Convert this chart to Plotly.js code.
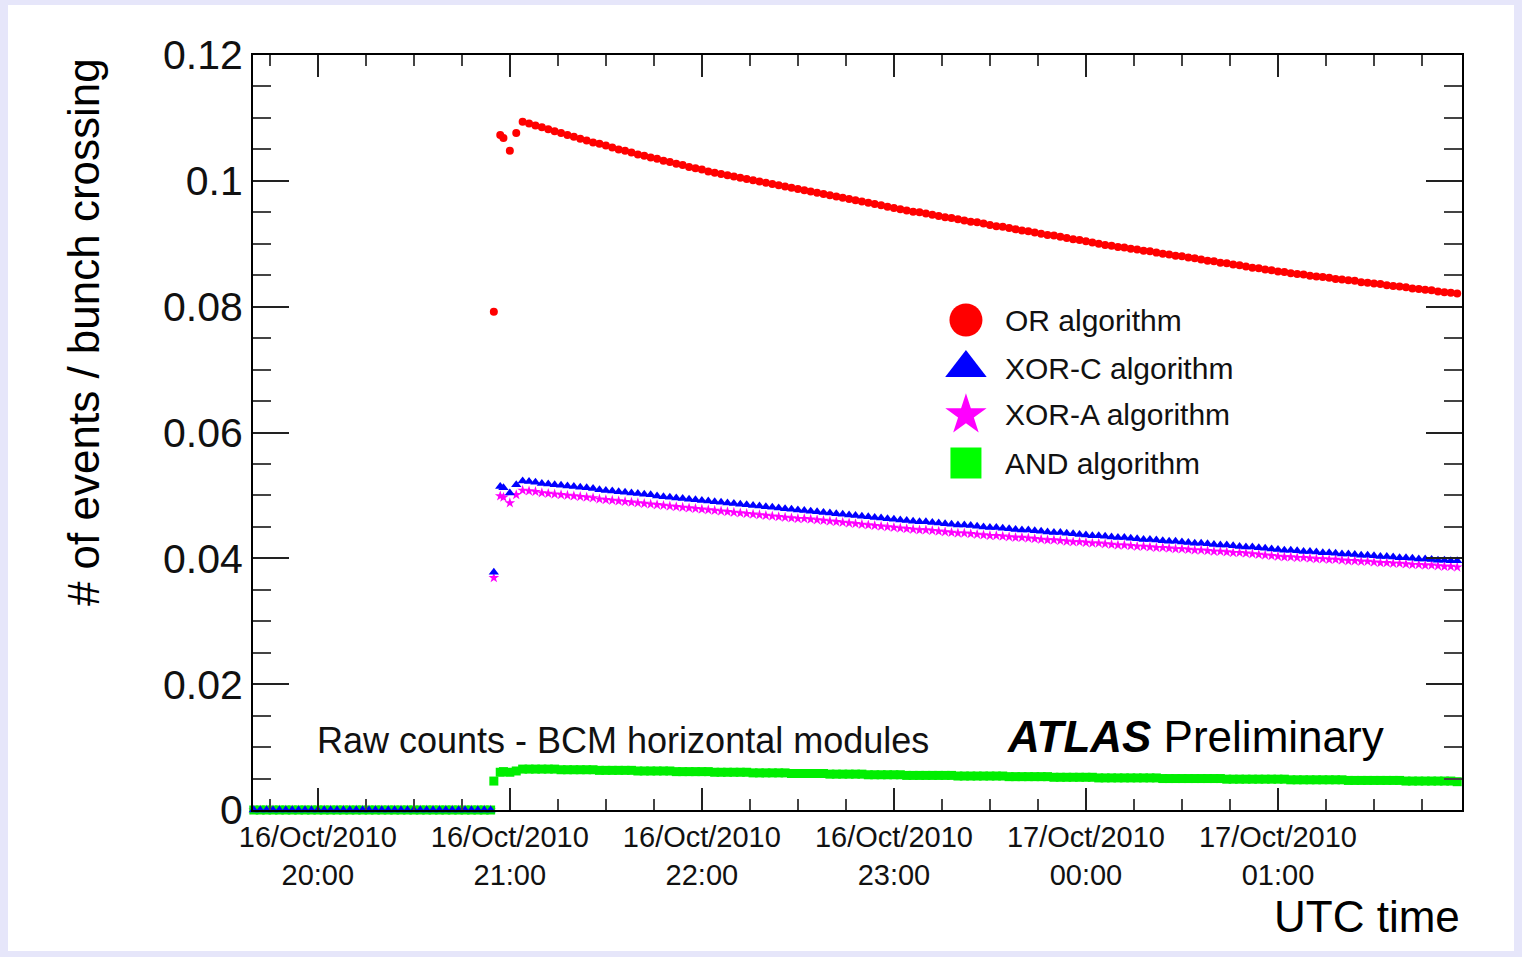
<!DOCTYPE html>
<html>
<head>
<meta charset="utf-8">
<script src="https://cdn.plot.ly/plotly-3.0.1.min.js"></script>
<style>
  html, body { margin: 0; padding: 0; background: #e6e6fa; width: 1522px; height: 957px; overflow: hidden; }
  #chart { position: absolute; left: 8px; top: 5px; width: 1506px; height: 946px; background: #ffffff; }
</style>
</head>
<body>
<div id="chart"></div>
<script>
// ---------------- data ----------------
const seriesNames = ['OR algorithm', 'XOR-C algorithm', 'XOR-A algorithm', 'AND algorithm'];

const times = [
  '19:40','19:42','19:44','19:46','19:48','19:50','19:52','19:54','19:56','19:58',
  '20:00','20:02','20:04','20:06','20:08','20:10','20:12','20:14','20:16','20:18',
  '20:20','20:22','20:24','20:26','20:28','20:30','20:32','20:34','20:36','20:38',
  '20:40','20:42','20:44','20:46','20:48','20:50','20:52','20:54',
  '20:55','20:57','20:58','21:00','21:02',
  '21:04','21:06','21:08','21:10','21:12','21:14','21:16','21:18','21:20','21:22',
  '21:24','21:26','21:28','21:30','21:32','21:34','21:36','21:38','21:40','21:42',
  '21:44','21:46','21:48','21:50','21:52','21:54','21:56','21:58',
  '22:00','22:02','22:04','22:06','22:08','22:10','22:12','22:14','22:16','22:18',
  '22:20','22:22','22:24','22:26','22:28','22:30','22:32','22:34','22:36','22:38',
  '22:40','22:42','22:44','22:46','22:48','22:50','22:52','22:54','22:56','22:58',
  '23:00','23:02','23:04','23:06','23:08','23:10','23:12','23:14','23:16','23:18',
  '23:20','23:22','23:24','23:26','23:28','23:30','23:32','23:34','23:36','23:38',
  '23:40','23:42','23:44','23:46','23:48','23:50','23:52','23:54','23:56','23:58',
  '00:00','00:02','00:04','00:06','00:08','00:10','00:12','00:14','00:16','00:18',
  '00:20','00:22','00:24','00:26','00:28','00:30','00:32','00:34','00:36','00:38',
  '00:40','00:42','00:44','00:46','00:48','00:50','00:52','00:54','00:56','00:58',
  '01:00','01:02','01:04','01:06','01:08','01:10','01:12','01:14','01:16','01:18',
  '01:20','01:22','01:24','01:26','01:28','01:30','01:32','01:34','01:36','01:38',
  '01:40','01:42','01:44','01:46','01:48','01:50','01:52','01:54','01:56'
];

const orValues = [
  0,0,0,0,0,0,0,0,0,0, 0,0,0,0,0,0,0,0,0,0, 0,0,0,0,0,0,0,0,0,0, 0,0,0,0,0,0,0,0,
  0.0792,0.1073,0.1068,0.1048,0.1076,
  0.1094,0.1091,0.1088,0.1085,0.1082,0.1079,0.1076,0.1073,0.1070,0.1067,
  0.1064,0.1061,0.1059,0.1056,0.1053,0.1050,0.1048,0.1045,0.1042,0.1040,
  0.1037,0.1035,0.1032,0.1030,0.1027,0.1025,0.1022,0.1020,0.1018,0.1015,0.1013,
  0.1011,0.1009,0.1007,0.1005,0.1003,0.1001,0.0999,0.0997,0.0995,0.0993,
  0.0991,0.0989,0.0987,0.0985,0.0983,0.0981,0.0979,0.0977,0.0975,0.0973,
  0.0971,0.0969,0.0967,0.0965,0.0963,0.0961,0.0959,0.0957,0.0955,0.0953,
  0.0951,0.0950,0.0948,0.0946,0.0944,0.0942,0.0941,0.0939,0.0937,0.0935,
  0.0934,0.0932,0.0930,0.0928,0.0927,0.0925,0.0923,0.0921,0.0920,0.0918,
  0.0916,0.0914,0.0913,0.0911,0.0909,0.0907,0.0906,0.0904,0.0902,0.0900,
  0.0898,0.0897,0.0895,0.0894,0.0892,0.0891,0.0889,0.0888,0.0886,0.0884,
  0.0883,0.0881,0.0880,0.0878,0.0877,0.0875,0.0873,0.0872,0.0870,0.0869,
  0.0867,0.0866,0.0864,0.0862,0.0861,0.0859,0.0858,0.0856,0.0855,0.0853,
  0.0852,0.0851,0.0849,0.0848,0.0847,0.0846,0.0844,0.0843,0.0842,0.0841,
  0.0839,0.0838,0.0837,0.0836,0.0834,0.0833,0.0832,0.0831,0.0829,0.0828,
  0.0827,0.0826,0.0824,0.0823,0.0822,0.0821
];

const xorCValues = [
  0,0,0,0,0,0,0,0,0,0, 0,0,0,0,0,0,0,0,0,0, 0,0,0,0,0,0,0,0,0,0, 0,0,0,0,0,0,0,0,
  0.0378,0.0514,0.0512,0.0504,0.0517,
  0.0523,0.0522,0.0521,0.0519,0.0518,0.0517,0.0516,0.0515,0.0514,0.0513,
  0.0512,0.0511,0.0509,0.0508,0.0507,0.0506,0.0505,0.0504,0.0503,0.0502,
  0.0501,0.0499,0.0498,0.0497,0.0496,0.0495,0.0494,0.0493,0.0492,
  0.0491,0.0490,0.0489,0.0488,0.0487,0.0486,0.0485,0.0484,0.0483,0.0482,
  0.0481,0.0480,0.0479,0.0478,0.0477,0.0476,0.0475,0.0474,0.0473,0.0472,
  0.0471,0.0470,0.0469,0.0468,0.0467,0.0466,0.0465,0.0464,0.0463,0.0462,
  0.0461,0.0460,0.0459,0.0458,0.0458,0.0457,0.0456,0.0455,0.0454,0.0453,
  0.0453,0.0452,0.0451,0.0450,0.0449,0.0449,0.0448,0.0447,0.0446,0.0445,
  0.0445,0.0444,0.0443,0.0442,0.0441,0.0441,0.0440,0.0439,0.0438,0.0437,
  0.0436,0.0436,0.0435,0.0434,0.0433,0.0433,0.0432,0.0431,0.0430,0.0430,
  0.0429,0.0428,0.0427,0.0427,0.0426,0.0425,0.0424,0.0424,0.0423,0.0422,
  0.0421,0.0421,0.0420,0.0419,0.0418,0.0418,0.0417,0.0416,0.0415,0.0414,
  0.0413,0.0413,0.0412,0.0411,0.0411,0.0410,0.0409,0.0409,0.0408,0.0407,
  0.0407,0.0406,0.0405,0.0405,0.0404,0.0403,0.0403,0.0402,0.0401,0.0401,
  0.0400,0.0399,0.0399,0.0398,0.0397,0.0397,0.0396,0.0396
];

const xorAValues = [
  0,0,0,0,0,0,0,0,0,0, 0,0,0,0,0,0,0,0,0,0, 0,0,0,0,0,0,0,0,0,0, 0,0,0,0,0,0,0,0,
  0.0369,0.0499,0.0497,0.0488,0.0501,
  0.0508,0.0507,0.0506,0.0504,0.0503,0.0502,0.0501,0.0500,0.0499,0.0498,
  0.0497,0.0496,0.0494,0.0493,0.0492,0.0491,0.0490,0.0489,0.0488,0.0487,
  0.0486,0.0485,0.0484,0.0483,0.0482,0.0481,0.0480,0.0479,0.0478,
  0.0477,0.0476,0.0475,0.0474,0.0473,0.0472,0.0471,0.0470,0.0469,0.0468,
  0.0467,0.0466,0.0465,0.0464,0.0463,0.0463,0.0462,0.0461,0.0460,0.0459,
  0.0458,0.0457,0.0456,0.0455,0.0454,0.0453,0.0452,0.0451,0.0450,0.0449,
  0.0448,0.0447,0.0446,0.0445,0.0445,0.0444,0.0443,0.0442,0.0441,0.0440,
  0.0440,0.0439,0.0438,0.0437,0.0436,0.0436,0.0435,0.0434,0.0433,0.0433,
  0.0432,0.0431,0.0430,0.0429,0.0429,0.0428,0.0427,0.0426,0.0426,0.0425,
  0.0424,0.0424,0.0423,0.0422,0.0421,0.0421,0.0420,0.0419,0.0419,0.0418,
  0.0417,0.0417,0.0416,0.0415,0.0415,0.0414,0.0413,0.0413,0.0412,0.0411,
  0.0411,0.0410,0.0409,0.0409,0.0408,0.0407,0.0406,0.0405,0.0404,0.0403,
  0.0402,0.0402,0.0401,0.0401,0.0400,0.0399,0.0399,0.0398,0.0398,0.0397,
  0.0396,0.0396,0.0395,0.0395,0.0394,0.0393,0.0393,0.0392,0.0392,0.0391,
  0.0390,0.0390,0.0389,0.0389,0.0388,0.0387,0.0387,0.0386
];

const andValues = [
  0,0,0,0,0,0,0,0,0,0, 0,0,0,0,0,0,0,0,0,0, 0,0,0,0,0,0,0,0,0,0, 0,0,0,0,0,0,0,0,
  0.0046,0.0060,0.0061,0.0060,0.0062,
  0.0065,0.0065,0.0065,0.0065,0.0065,0.0065,0.0064,0.0064,0.0064,0.0064,
  0.0064,0.0064,0.0063,0.0063,0.0063,0.0063,0.0063,0.0063,0.0062,0.0062,
  0.0062,0.0062,0.0062,0.0062,0.0061,0.0061,0.0061,0.0061,0.0061,0.0061,0.0060,
  0.0060,0.0060,0.0060,0.0060,0.0060,0.0059,0.0059,0.0059,0.0059,0.0059,
  0.0059,0.0058,0.0058,0.0058,0.0058,0.0058,0.0058,0.0057,0.0057,0.0057,
  0.0057,0.0057,0.0057,0.0056,0.0056,0.0056,0.0056,0.0056,0.0056,0.0055,
  0.0055,0.0055,0.0055,0.0055,0.0055,0.0055,0.0055,0.0054,0.0054,0.0054,
  0.0054,0.0054,0.0054,0.0054,0.0054,0.0053,0.0053,0.0053,0.0053,0.0053,
  0.0053,0.0053,0.0052,0.0052,0.0052,0.0052,0.0052,0.0052,0.0052,0.0051,
  0.0051,0.0051,0.0051,0.0051,0.0051,0.0051,0.0051,0.0051,0.0051,0.0050,
  0.0050,0.0050,0.0050,0.0050,0.0050,0.0050,0.0050,0.0050,0.0050,0.0049,
  0.0049,0.0049,0.0049,0.0049,0.0049,0.0049,0.0049,0.0049,0.0049,0.0048,
  0.0048,0.0048,0.0048,0.0048,0.0048,0.0048,0.0048,0.0048,0.0047,0.0047,
  0.0047,0.0047,0.0047,0.0047,0.0047,0.0047,0.0047,0.0046,0.0046,0.0046,
  0.0046,0.0046,0.0046,0.0046,0.0046,0.0045
];

const tickTimes = ['2010-10-16 20:00','2010-10-16 21:00','2010-10-16 22:00','2010-10-16 23:00','2010-10-17 00:00','2010-10-17 01:00'];
const tickLabels = ['16/Oct/2010<br>20:00','16/Oct/2010<br>21:00','16/Oct/2010<br>22:00','16/Oct/2010<br>23:00','17/Oct/2010<br>00:00','17/Oct/2010<br>01:00'];

// ---------------- build ----------------
function toDate(t) {
  const h = parseInt(t.slice(0, 2), 10);
  return (h < 12 ? '2010-10-17 ' : '2010-10-16 ') + t + ':00';
}
const x = times.map(toDate);

const FONT = '"Liberation Sans", Arial, Helvetica, sans-serif';
const colors = { or: '#ff0000', xorc: '#0000ff', xora: '#ff00ff', and: '#00ee00' };
const symbols = { or: 'circle', xorc: 'triangle-up', xora: 'star', and: 'square' };

function series(name, y, color, symbol, size) {
  return {
    type: 'scatter', mode: 'markers', x: x, y: y, name: name,
    marker: { color: color, symbol: symbol, size: size, opacity: 1, line: { width: 0 } },
    cliponaxis: false, showlegend: false, hoverinfo: 'skip'
  };
}

const traces = [
  series(seriesNames[0], orValues, colors.or, symbols.or, 8),
  series(seriesNames[2], xorAValues, colors.xora, symbols.xora, 8),
  series(seriesNames[3], andValues, colors.and, symbols.and, 9),
  series(seriesNames[1], xorCValues, colors.xorc, symbols.xorc, 9)
];

// custom legend (large markers) on a hidden overlay axis pair with a 0..1 range
const legendX = 0.5897;
const legendYs = [0.649, 0.5854, 0.5232, 0.4596];
traces.push({
  type: 'scatter', mode: 'markers', xaxis: 'x2', yaxis: 'y2',
  x: legendYs.map(() => legendX), y: legendYs,
  marker: {
    color: [colors.or, colors.xorc, colors.xora, '#00ff00'],
    symbol: [symbols.or, symbols.xorc, symbols.xora, symbols.and],
    size: [33, 36, 31, 31], opacity: 1, line: { width: 0 }
  },
  showlegend: false, hoverinfo: 'skip', cliponaxis: false
});

const annotations = seriesNames.map((n, i) => ({
  xref: 'paper', yref: 'paper', x: 0.6203, y: legendYs[i], xanchor: 'left', yanchor: 'middle',
  text: n, showarrow: false, font: { family: FONT, size: 30, color: '#111' }
}));
annotations.push(
  { xref: 'paper', yref: 'paper', x: 0.0513, y: 0.0927, xanchor: 'left', yanchor: 'middle',
    text: 'Raw counts - BCM horizontal modules', showarrow: false, font: { family: FONT, size: 36, color: '#111' } },
  { xref: 'paper', yref: 'paper', x: 0.622, y: 0.0967, xanchor: 'left', yanchor: 'middle',
    text: '<b><i>ATLAS</i></b> Preliminary', showarrow: false, font: { family: FONT, size: 44, color: '#000' } },
  { xref: 'paper', yref: 'paper', x: 1, y: -0.1417, xanchor: 'right', yanchor: 'middle',
    text: 'UTC time', showarrow: false, font: { family: FONT, size: 44, color: '#000' } },
  { xref: 'paper', yref: 'paper', x: -0.1406, y: 0.633, xanchor: 'center', yanchor: 'middle', textangle: -90,
    text: '# of events / bunch crossing', showarrow: false, font: { family: FONT, size: 44, color: '#000' } }
);

const layout = {
  width: 1506, height: 946,
  margin: { l: 245, r: 52, t: 50, b: 141, pad: 0 },
  paper_bgcolor: '#ffffff', plot_bgcolor: '#ffffff',
  font: { family: FONT, color: '#000' },
  showlegend: false,
  xaxis: {
    type: 'date',
    range: ['2010-10-16 19:39:45', '2010-10-17 01:57:30'],
    tickmode: 'array', tickvals: tickTimes, ticktext: tickLabels,
    ticks: 'inside', ticklen: 22, tickwidth: 2, tickcolor: '#222',
    minor: { tickmode: 'linear', tick0: '2010-10-16 19:45', dtick: 900000, ticks: 'inside', ticklen: 11, tickwidth: 2, tickcolor: '#444', showgrid: false },
    showline: true, linecolor: '#000', linewidth: 2, mirror: 'ticks',
    showgrid: false, zeroline: false,
    tickfont: { family: FONT, size: 29, color: '#111' },
    fixedrange: true
  },
  yaxis: {
    range: [0, 0.12], dtick: 0.02, tick0: 0,
    ticks: 'inside', ticklen: 36, tickwidth: 2, tickcolor: '#222',
    minor: { dtick: 0.005, ticks: 'inside', ticklen: 18, tickwidth: 2, tickcolor: '#444', showgrid: false },
    showline: true, linecolor: '#000', linewidth: 2, mirror: 'ticks',
    showgrid: false, zeroline: false,
    tickfont: { family: FONT, size: 41, color: '#111' },
    fixedrange: true
  },
  xaxis2: { overlaying: 'x', anchor: 'y2', range: [0, 1], visible: false, fixedrange: true },
  yaxis2: { overlaying: 'y', anchor: 'x2', range: [0, 1], visible: false, fixedrange: true },
  annotations: annotations
};

Plotly.newPlot('chart', traces, layout, { displayModeBar: false, staticPlot: true });
</script>
</body>
</html>
